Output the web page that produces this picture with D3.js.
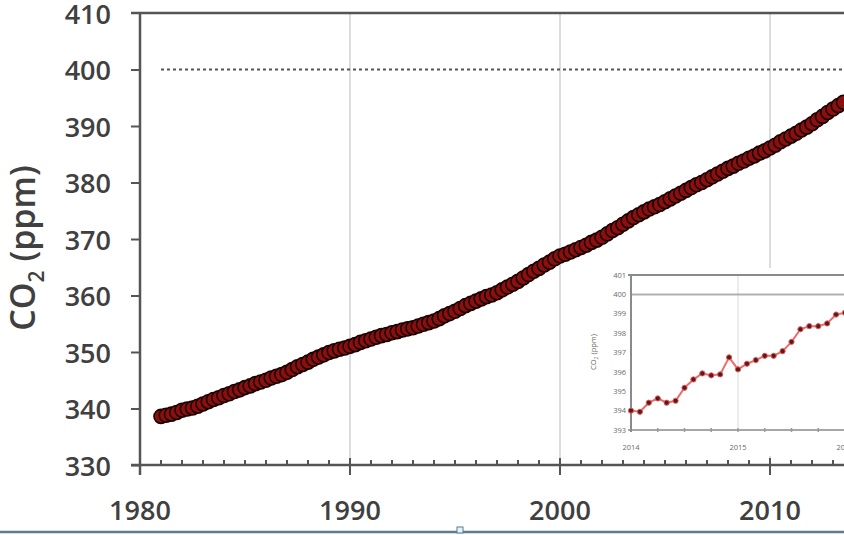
<!DOCTYPE html>
<html><head><meta charset="utf-8">
<script src="https://cdn.jsdelivr.net/npm/d3@7"></script>
<style>html,body{margin:0;padding:0;background:#fff;overflow:hidden}</style>
</head><body>
<svg id="chart" width="844" height="535"></svg>
<script>
// ---- data ----
const mainYears = [1981,1982,1983,1984,1985,1986,1987,1988,1989,1990,1991,1992,1993,1994,1995,1996,1997,1998,1999,2000,2001,2002,2003,2004,2005,2006,2007,2008,2009,2010,2011,2012,2013];
const mainQuarterly = [
  [338.6,338.8,339.0,339.3],[339.7,339.9,340.1,340.4],[340.8,341.2,341.6,341.9],[342.3,342.6,343.0,343.3],
  [343.7,344.0,344.4,344.7],[345.0,345.4,345.7,346.0],[346.4,346.9,347.4,347.8],[348.2,348.7,349.1,349.5],
  [349.9,350.2,350.5,350.7],[351.0,351.3,351.7,352.0],[352.3,352.6,352.9,353.1],[353.4,353.6,353.9,354.1],
  [354.3,354.6,354.9,355.2],[355.5,355.9,356.4,356.8],[357.2,357.7,358.2,358.6],[359.0,359.4,359.8,360.1],
  [360.5,361.0,361.5,362.0],[362.5,363.1,363.7,364.3],[364.8,365.4,365.9,366.5],[367.0,367.3,367.7,368.1],
  [368.5,368.9,369.4,369.8],[370.3,370.9,371.5,372.0],[372.6,373.2,373.8,374.3],[374.8,375.3,375.7,376.1],
  [376.6,377.1,377.6,378.1],[378.6,379.1,379.6,380.0],[380.5,381.0,381.5,382.0],[382.5,382.9,383.4,383.8],
  [384.3,384.7,385.2,385.6],[386.1,386.6,387.2,387.7],[388.2,388.7,389.3,389.8],[390.4,391.1,391.7,392.4],
  [393.0,393.6,394.2]
];
const yTicks = [330,340,350,360,370,380,390,400,410];
const xTicks = [1980,1990,2000,2010];
const refLevel = 400;

const insetMonthly = [394.0,393.94,394.41,394.63,394.41,394.51,395.18,395.61,395.92,395.82,395.87,396.75,
  396.13,396.42,396.61,396.83,396.83,397.07,397.55,398.2,398.36,398.36,398.5,398.96,399.05];
const insetYTicks = [393,394,395,396,397,398,399,400,401];
const insetXTicks = [2014,2015,2016];

// ---- build ----
const svg = d3.select("#chart");
const x = d3.scaleLinear().domain([1980, 2014]).range([140, 854]);
const y = d3.scaleLinear().domain([330, 410]).range([465, 13]);
const axisCol = "#555", textCol = "#404040";
const font = "'Open Sans', 'DejaVu Sans', sans-serif";

const mainPts = [];
mainYears.forEach((yr, i) => mainQuarterly[i].forEach((v, q) => mainPts.push({t: yr + q / 4, v})));

// vertical grid
svg.append("g").selectAll("line").data(xTicks.filter(d => d > 1980)).join("line")
  .attr("x1", d => x(d)).attr("x2", d => x(d)).attr("y1", y(410)).attr("y2", y(330))
  .attr("stroke", "#d0d0d0").attr("stroke-width", 1.5);

// reference dashed line
svg.append("line").attr("x1", x(1981)).attr("x2", 844).attr("y1", y(refLevel)).attr("y2", y(refLevel))
  .attr("stroke", "#555").attr("stroke-width", 2).attr("stroke-dasharray", "3,3");

// top border
svg.append("line").attr("x1", 131).attr("x2", 844).attr("y1", y(410)).attr("y2", y(410))
  .attr("stroke", axisCol).attr("stroke-width", 2.5);

// y axis
const yAxis = d3.axisLeft(y).tickValues(yTicks.filter(d => d < 410)).tickSize(9).tickFormat("");
const gy = svg.append("g").attr("transform", "translate(140,0)").call(yAxis);
gy.select(".domain").remove();
gy.selectAll("line").attr("stroke", axisCol).attr("stroke-width", 2);
svg.append("line").attr("x1", 140).attr("x2", 140).attr("y1", y(410)).attr("y2", 475)
  .attr("stroke", axisCol).attr("stroke-width", 2.5);
svg.append("g").selectAll("text").data(yTicks).join("text")
  .attr("x", 111).attr("y", d => y(d) + 1).attr("dy", "0.36em").attr("text-anchor", "end")
  .attr("font-family", font).attr("font-size", 27).attr("font-weight", 600).attr("fill", textCol).text(d => d);

// x axis
const xMinor = d3.range(1981, 2014).filter(d => d % 10 !== 0);
svg.append("g").selectAll("line").data(xMinor).join("line")
  .attr("x1", d => x(d)).attr("x2", d => x(d)).attr("y1", 460).attr("y2", 465)
  .attr("stroke", axisCol).attr("stroke-width", 2);
svg.append("g").selectAll("line").data(xTicks).join("line")
  .attr("x1", d => x(d)).attr("x2", d => x(d)).attr("y1", 458).attr("y2", 475)
  .attr("stroke", axisCol).attr("stroke-width", 2);
svg.append("line").attr("x1", 131).attr("x2", 844).attr("y1", 465).attr("y2", 465)
  .attr("stroke", axisCol).attr("stroke-width", 2.5);
svg.append("g").selectAll("text").data(xTicks).join("text")
  .attr("x", d => x(d)).attr("y", 520).attr("text-anchor", "middle")
  .attr("font-family", font).attr("font-size", 27).attr("font-weight", 600).attr("fill", textCol).text(d => d);

// y title
const yt = svg.append("text").attr("transform", "translate(35,248) rotate(-90)")
  .attr("text-anchor", "middle").attr("font-family", font).attr("font-size", 34).attr("font-weight", 600).attr("fill", textCol);
yt.append("tspan").text("CO");
yt.append("tspan").attr("font-size", 21).attr("dy", 9).text("2");
yt.append("tspan").attr("dy", -9).text(" (ppm)");

// main data points
svg.append("g").selectAll("circle").data(mainPts).join("circle")
  .attr("cx", d => x(d.t)).attr("cy", d => y(d.v)).attr("r", 7)
  .attr("fill", "#8c0f0f").attr("stroke", "#1a0000").attr("stroke-width", 1.6);

// ---- inset ----
const ins = svg.append("g");
ins.append("rect").attr("x", 584).attr("y", 268).attr("width", 260).attr("height", 188).attr("fill", "#fff");
const xi = d3.scaleLinear().domain([2014, 2016]).range([631, 845]);
const yi = d3.scaleLinear().domain([393, 401]).range([430, 275]);
ins.append("line").attr("x1", xi(2015)).attr("x2", xi(2015)).attr("y1", 275).attr("y2", 430)
  .attr("stroke", "#dadada").attr("stroke-width", 1);
ins.append("line").attr("x1", 631).attr("x2", 844).attr("y1", yi(400)).attr("y2", yi(400))
  .attr("stroke", "#b0b0b0").attr("stroke-width", 2);
ins.append("line").attr("x1", 628).attr("x2", 844).attr("y1", yi(401)).attr("y2", yi(401))
  .attr("stroke", "#8a8a8a").attr("stroke-width", 2);
ins.append("line").attr("x1", 631).attr("x2", 631).attr("y1", 275).attr("y2", 432)
  .attr("stroke", "#8a8a8a").attr("stroke-width", 2);
ins.append("line").attr("x1", 628).attr("x2", 844).attr("y1", 430).attr("y2", 430)
  .attr("stroke", "#8a8a8a").attr("stroke-width", 1.5);
ins.append("g").selectAll("line").data(d3.range(2014.25, 2016, 0.25)).join("line")
  .attr("x1", d => xi(d)).attr("x2", d => xi(d)).attr("y1", 428).attr("y2", 432)
  .attr("stroke", "#9a9a9a").attr("stroke-width", 1.5);
ins.append("g").selectAll("text").data(insetYTicks).join("text")
  .attr("x", 626).attr("y", d => yi(d)).attr("dy", "0.35em").attr("text-anchor", "end")
  .attr("font-family", font).attr("font-size", 7.5).attr("fill", "#6a6a6a").text(d => d);
ins.append("g").selectAll("text").data(insetXTicks).join("text")
  .attr("x", d => xi(d)).attr("y", 450).attr("text-anchor", "middle")
  .attr("font-family", font).attr("font-size", 7.5).attr("fill", "#6a6a6a").text(d => d);
const it = ins.append("text").attr("transform", "translate(596,352) rotate(-90)")
  .attr("text-anchor", "middle").attr("font-family", font).attr("font-size", 7.5).attr("fill", "#6a6a6a");
it.append("tspan").text("CO");
it.append("tspan").attr("font-size", 5).attr("dy", 2).text("2");
it.append("tspan").attr("dy", -2).text(" (ppm)");
const insPts = insetMonthly.map((v, i) => ({t: 2014 + i / 12, v}));
ins.append("path").datum(insPts)
  .attr("d", d3.line().x(d => xi(d.t)).y(d => yi(d.v)))
  .attr("fill", "none").attr("stroke", "#ef6a6a").attr("stroke-width", 2);
ins.append("g").selectAll("circle").data(insPts).join("circle")
  .attr("cx", d => xi(d.t)).attr("cy", d => yi(d.v)).attr("r", 2.6)
  .attr("fill", "#5a1a1a").attr("stroke", "#e85a5a").attr("stroke-width", 1);

// bottom frame strip
svg.append("line").attr("x1", 0).attr("x2", 844).attr("y1", 532).attr("y2", 532)
  .attr("stroke", "#5e7b94").attr("stroke-width", 2.5);
svg.append("rect").attr("x", 457).attr("y", 527).attr("width", 6).attr("height", 6)
  .attr("fill", "#e4f2fa").attr("stroke", "#5e7b94").attr("stroke-width", 1);
</script>
</body></html>
